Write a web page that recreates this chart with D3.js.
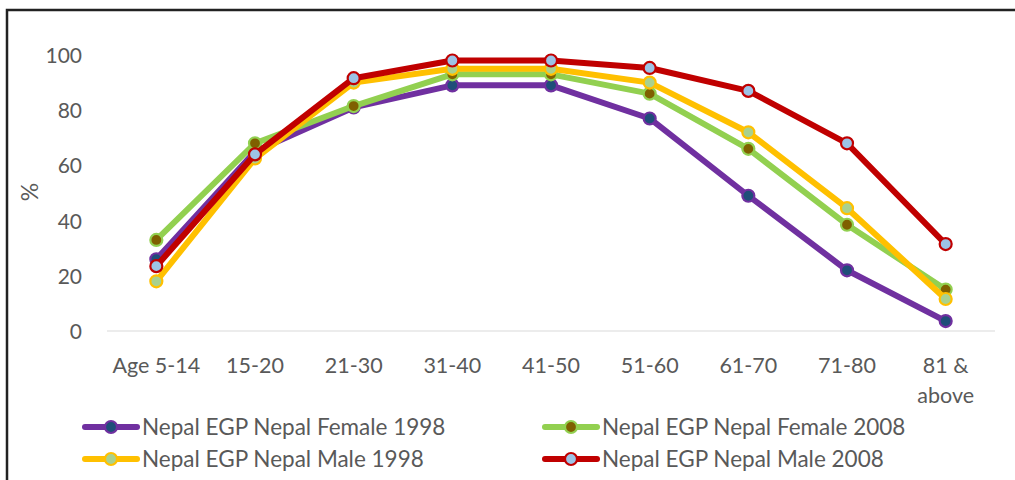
<!DOCTYPE html>
<html><head><meta charset="utf-8">
<script src="https://cdn.jsdelivr.net/npm/d3@7"></script>
<style>body{margin:0;background:#fff}svg{display:block}text{font-family:Lato,"Open Sans",sans-serif;fill:#595959}</style>
</head><body><svg id="c" width="1015" height="480"></svg>
<script>
const categories = ["Age 5-14","15-20","21-30","31-40","41-50","51-60","61-70","71-80","81 & above"];
const female1998 = [26,65,81,89,89,77,49,22,3.6];
const female2008 = [33,68,81.5,93,93,86,66,38.5,15];
const male1998 = [18,62.5,90,95,95,90,72,44.5,11.6];
const male2008 = [23.5,64,91.6,98,98,95.3,87,68,31.5];
const yTicks = [0,20,40,60,80,100];
const seriesNames = ["Nepal EGP Nepal Female 1998","Nepal EGP Nepal Female 2008","Nepal EGP Nepal Male 1998","Nepal EGP Nepal Male 2008"];

const series = [
  {name:seriesNames[0], values:female1998, line:"#7030A0", fill:"#1F4E79"},
  {name:seriesNames[1], values:female2008, line:"#92D050", fill:"#7F6000"},
  {name:seriesNames[2], values:male1998, line:"#FFC000", fill:"#A9D18E"},
  {name:seriesNames[3], values:male2008, line:"#C00000", fill:"#9DC3E6"}
];

const svg = d3.select("#c");
svg.append("rect").attr("x",7).attr("y",10).attr("width",1020).attr("height",490)
  .attr("fill","none").attr("stroke","#222").attr("stroke-width",2.5);

const pLeft=107, pRight=995, pTop=55, pBottom=331;
const x = d3.scaleBand().domain(categories).range([pLeft,pRight]);
const y = d3.scaleLinear().domain([0,100]).range([pBottom,pTop]);

// baseline
svg.append("line").attr("x1",pLeft).attr("x2",pRight).attr("y1",y(0)).attr("y2",y(0))
  .attr("stroke","#D9D9D9").attr("stroke-width",1.2);

// y ticks
const ya = svg.append("g").attr("transform",`translate(${pLeft-25},0)`)
  .call(d3.axisLeft(y).tickValues(yTicks).tickSize(0).tickPadding(0));
ya.select(".domain").remove();
ya.selectAll("text").style("font-family","Lato, sans-serif").style("font-size","21px").attr("fill","#595959").attr("dy","0.36em");

// x labels
const xa = svg.append("g").attr("transform",`translate(0,${pBottom})`)
  .call(d3.axisBottom(x).tickSize(0).tickPadding(0));
xa.select(".domain").remove();
xa.selectAll("text").each(function(d){
  const t = d3.select(this);
  t.text(null).attr("y",0).attr("dy",null).style("font-family","Lato, sans-serif").style("font-size","21.5px").attr("fill","#595959");
  const parts = d==="81 & above" ? ["81 &","above"] : [d];
  parts.forEach((p,i)=> t.append("tspan").attr("x",0).attr("y",42+i*30).text(p));
});

// y title
svg.append("text").attr("transform","translate(38,192) rotate(-90)").attr("text-anchor","middle")
  .style("font-size","23px").text("%");

const line = d3.line().x((d,i)=>x(categories[i])+x.bandwidth()/2).y(d=>y(d));
series.forEach(s=>{
  svg.append("path").datum(s.values).attr("d",line).attr("fill","none")
    .attr("stroke",s.line).attr("stroke-width",6).attr("stroke-linejoin","round").attr("stroke-linecap","round");
  svg.append("g").selectAll("circle").data(s.values).join("circle")
    .attr("cx",(d,i)=>x(categories[i])+x.bandwidth()/2).attr("cy",d=>y(d)).attr("r",6)
    .attr("fill",s.fill).attr("stroke",s.line).attr("stroke-width",2.2);
});

// legend
const legPos = [[85,427],[545,427],[85,459],[545,459]];
series.forEach((s,i)=>{
  const [lx,ly] = legPos[i];
  const g = svg.append("g").attr("transform",`translate(${lx},${ly})`);
  g.append("line").attr("x1",0).attr("x2",52).attr("y1",0).attr("y2",0).attr("stroke",s.line).attr("stroke-width",6).attr("stroke-linecap","round");
  g.append("circle").attr("cx",26).attr("cy",0).attr("r",6).attr("fill",s.fill).attr("stroke",s.line).attr("stroke-width",2.2);
  g.append("text").attr("x",57).attr("y",0).attr("dy","0.36em").style("font-size","22.5px").text(s.name);
});
</script></body></html>
